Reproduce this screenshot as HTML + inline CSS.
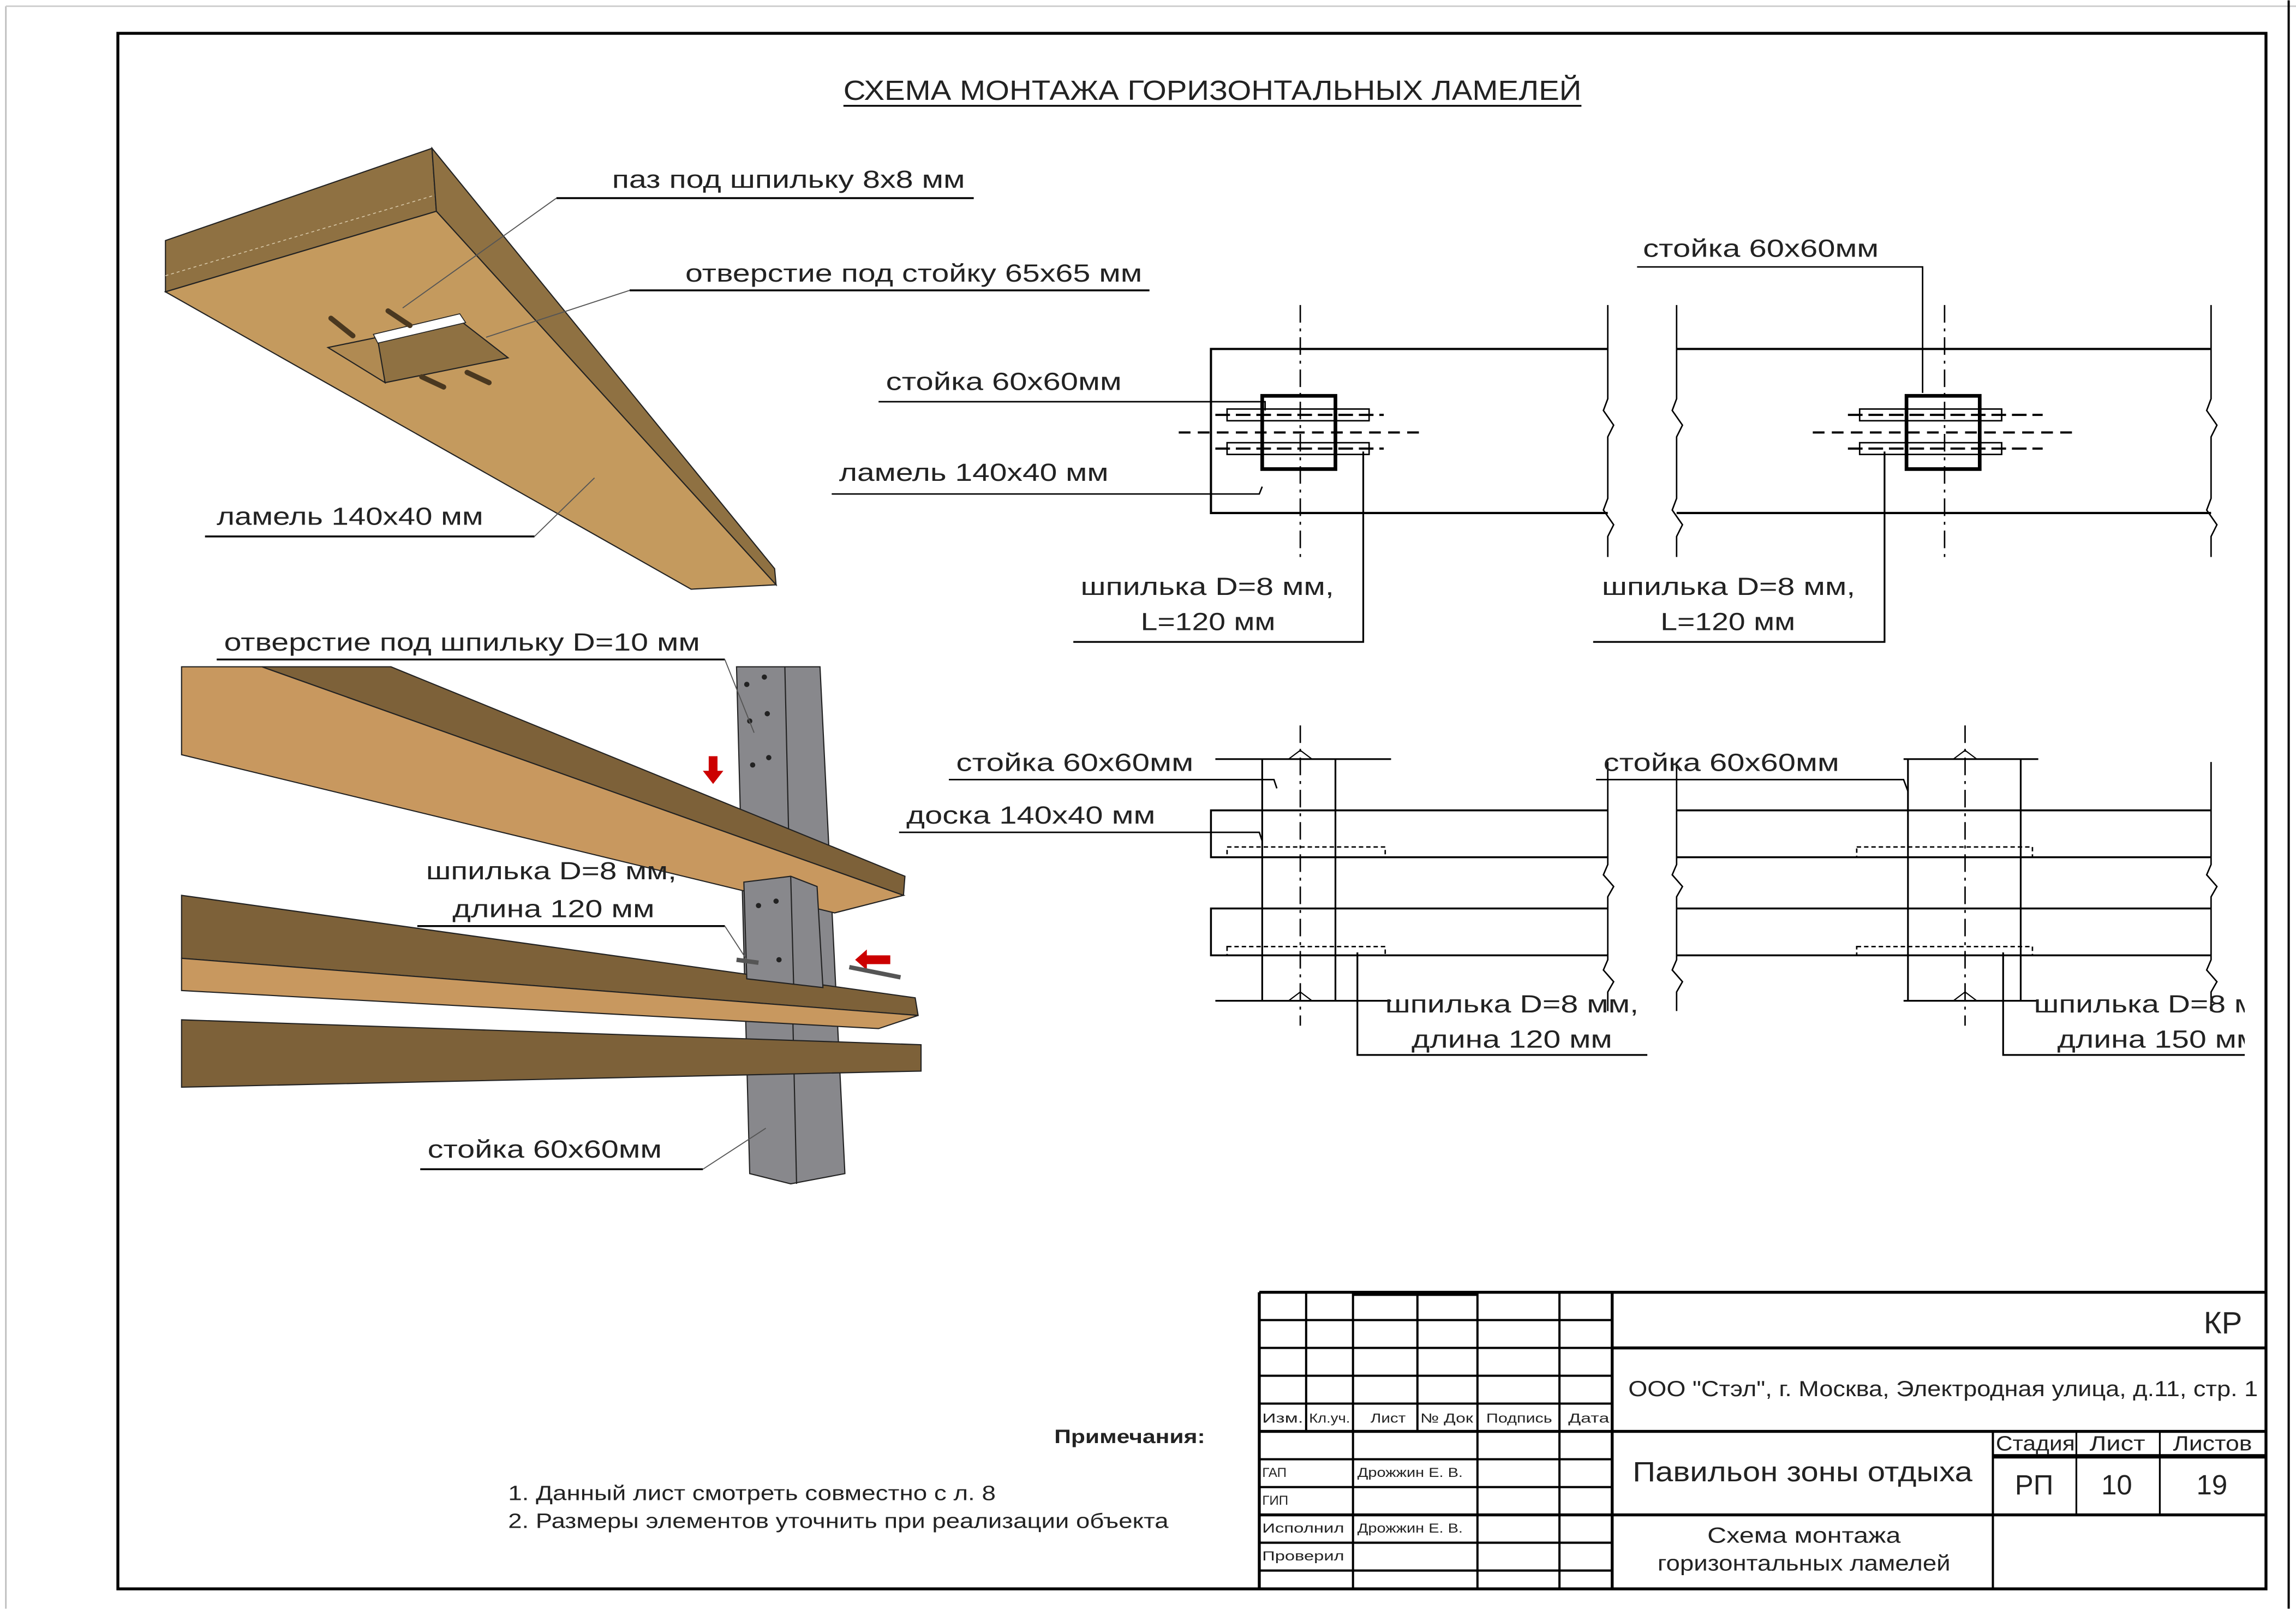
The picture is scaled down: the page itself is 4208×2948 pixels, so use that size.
<!DOCTYPE html>
<html><head><meta charset="utf-8"><style>
html,body{margin:0;padding:0;background:#fff;}
svg{display:block;}
text{font-family:"Liberation Sans","DejaVu Sans",sans-serif;fill:#222;}
</style></head><body>
<svg width="4208" height="2948" viewBox="0 0 1568 1098" xmlns="http://www.w3.org/2000/svg">
<rect width="1568" height="1098" fill="#fff"/>
<!-- page edges -->
<line x1="4" y1="4" x2="4" y2="1098" stroke="#bbb" stroke-width="1"/>
<line x1="4" y1="4" x2="1568" y2="4" stroke="#ccc" stroke-width="1"/>
<line x1="1563" y1="0" x2="1563" y2="1098" stroke="#000" stroke-width="1.5"/>
<!-- frame -->
<rect x="80.5" y="22.5" width="1467" height="1062" fill="none" stroke="#000" stroke-width="2"/>

<!-- title -->
<text x="576" y="68" font-size="19" textLength="504" lengthAdjust="spacingAndGlyphs">СХЕМА МОНТАЖА ГОРИЗОНТАЛЬНЫХ ЛАМЕЛЕЙ</text>
<line x1="576" y1="72" x2="1080" y2="72" stroke="#000" stroke-width="1.2"/>

<!-- top-left plank -->
<polygon points="113,164 295,101 298,144 113,199" fill="#8f7142" stroke="#222" stroke-width="0.8"/>
<polygon points="295,101 529,388 530,399 298,144" fill="#8f7142" stroke="#222" stroke-width="0.8"/>
<polygon points="113,199 298,144 530,399 472,402" fill="#c49a5e" stroke="#222" stroke-width="0.8"/>
<line x1="113" y1="188" x2="297" y2="133" stroke="#d8c8a8" stroke-width="0.6" stroke-dasharray="2,2"/>
<!-- hole -->
<polygon points="224,237 258,230 263,261" fill="#b08a52" stroke="#222" stroke-width="0.8"/>
<polygon points="258,232 316,220 347,244 263,261" fill="#8f7142" stroke="#222" stroke-width="0.8"/>
<polygon points="255,228 314,214 318,220 258,234" fill="#fff" stroke="#222" stroke-width="0.6"/>
<g stroke="#4a3820" stroke-width="3.5" stroke-linecap="round">
<line x1="226" y1="217" x2="241" y2="229"/>
<line x1="265" y1="212" x2="280" y2="222"/>
<line x1="288" y1="257" x2="303" y2="264"/>
<line x1="319" y1="254" x2="334" y2="261"/>
</g>

<!-- top-left labels -->
<text x="418" y="128" font-size="17" textLength="241" lengthAdjust="spacingAndGlyphs">паз под шпильку 8x8 мм</text>
<line x1="665" y1="135" x2="380" y2="135" stroke="#000" stroke-width="1.3"/>
<line x1="380" y1="135" x2="275" y2="210" stroke="#555" stroke-width="0.7"/>
<text x="468" y="192" font-size="17" textLength="312" lengthAdjust="spacingAndGlyphs">отверстие под стойку 65x65 мм</text>
<line x1="785" y1="198" x2="430" y2="198" stroke="#000" stroke-width="1.3"/>
<line x1="430" y1="198" x2="332" y2="230" stroke="#555" stroke-width="0.7"/>
<text x="148" y="358" font-size="17" textLength="182" lengthAdjust="spacingAndGlyphs">ламель 140x40 мм</text>
<line x1="140" y1="366" x2="365" y2="366" stroke="#000" stroke-width="1.3"/>
<line x1="365" y1="366" x2="406" y2="326" stroke="#555" stroke-width="0.7"/>

<!-- lower-left 3D -->
<polygon points="503,455 560,455 577,801 540,808 512,801" fill="#88888c" stroke="#222" stroke-width="0.8"/>
<line x1="536" y1="455" x2="544" y2="808" stroke="#222" stroke-width="0.8"/>
<g fill="#222"><circle cx="510" cy="467" r="1.8"/><circle cx="522" cy="462" r="1.8"/><circle cx="512" cy="492" r="1.8"/><circle cx="524" cy="487" r="1.8"/><circle cx="514" cy="522" r="1.8"/><circle cx="525" cy="517" r="1.8"/></g>
<polygon points="124,455 179,455 617,611 570,623 124,515" fill="#c8985f" stroke="#222" stroke-width="0.8"/>
<polygon points="179,455 267,455 618,598 617,611" fill="#7d6139" stroke="#222" stroke-width="0.8"/>
<polygon points="124,611 625,681 627,693 124,654" fill="#7d6139" stroke="#222" stroke-width="0.8"/>
<polygon points="124,654 627,693 600,702 124,676" fill="#c8985f" stroke="#222" stroke-width="0.8"/>
<polygon points="508,602 540,598 558,605 562,674 510,668" fill="#88888c" stroke="#222" stroke-width="0.8"/>
<line x1="540" y1="598" x2="542" y2="672" stroke="#222" stroke-width="0.8"/>
<g fill="#222"><circle cx="518" cy="618" r="1.8"/><circle cx="530" cy="615" r="1.8"/><circle cx="532" cy="655" r="1.8"/></g>
<polygon points="124,696 629,713 629,731 124,742" fill="#7d6139" stroke="#222" stroke-width="0.8"/>
<polygon points="484,516 490,516 490,526 494,526 487,535 480,526 484,526" fill="#c00"/>
<polygon points="584,652 600,652 600,648 608,655 600,662 600,658 584,658" fill="#c00" transform="rotate(180 596 655)"/>
<line x1="580" y1="660" x2="615" y2="667" stroke="#555" stroke-width="3"/>
<line x1="503" y1="655" x2="518" y2="657" stroke="#555" stroke-width="3"/>

<text x="153" y="444" font-size="17" textLength="325" lengthAdjust="spacingAndGlyphs">отверстие под шпильку D=10 мм</text>
<line x1="148" y1="450" x2="495" y2="450" stroke="#000" stroke-width="1.3"/>
<line x1="495" y1="450" x2="515" y2="500" stroke="#555" stroke-width="0.7"/>
<text x="291" y="600" font-size="17" textLength="171" lengthAdjust="spacingAndGlyphs">шпилька D=8 мм,</text>
<text x="309" y="626" font-size="17" textLength="138" lengthAdjust="spacingAndGlyphs">длина 120 мм</text>
<line x1="285" y1="632" x2="495" y2="632" stroke="#000" stroke-width="1.3"/>
<line x1="495" y1="632" x2="510" y2="655" stroke="#555" stroke-width="0.7"/>
<text x="292" y="790" font-size="17" textLength="160" lengthAdjust="spacingAndGlyphs">стойка 60x60мм</text>
<line x1="287" y1="798" x2="480" y2="798" stroke="#000" stroke-width="1.3"/>
<line x1="480" y1="798" x2="523" y2="770" stroke="#555" stroke-width="0.7"/>

<!-- plan view 1 -->
<g stroke="#000" fill="none">
<polyline points="1098,238 827,238 827,350 1098,350" stroke-width="1.5"/>
<line x1="888" y1="208" x2="888" y2="380" stroke-width="1" stroke-dasharray="12,4,2,4"/>
<path d="M1098,208 V272 L1095,280 L1102,290 L1098,298 V340 L1095,348 L1102,358 L1098,366 V380" stroke-width="1"/>
<path d="M1145,208 V272 L1142,280 L1149,290 L1145,298 V340 L1142,348 L1149,358 L1145,366 V380" stroke-width="1"/>
<line x1="805" y1="295" x2="972" y2="295" stroke-width="1.5" stroke-dasharray="8,5"/>
<rect x="838" y="279" width="97" height="8" stroke-width="1"/>
<rect x="838" y="302" width="97" height="8" stroke-width="1"/>
<line x1="830" y1="283" x2="945" y2="283" stroke-width="1.5" stroke-dasharray="10,4"/>
<line x1="830" y1="306" x2="945" y2="306" stroke-width="1.5" stroke-dasharray="10,4"/>
<rect x="862" y="270" width="50" height="50" stroke-width="2.5"/>
</g>
<!-- plan view 2 -->
<g stroke="#000" fill="none">
<line x1="1145" y1="238" x2="1510" y2="238" stroke-width="1.5"/>
<line x1="1145" y1="350" x2="1510" y2="350" stroke-width="1.5"/>
<line x1="1328" y1="208" x2="1328" y2="380" stroke-width="1" stroke-dasharray="12,4,2,4"/>
<path d="M1510,208 V272 L1507,280 L1514,290 L1510,298 V340 L1507,348 L1514,358 L1510,366 V380" stroke-width="1"/>
<line x1="1238" y1="295" x2="1420" y2="295" stroke-width="1.5" stroke-dasharray="8,5"/>
<rect x="1270" y="279" width="97" height="8" stroke-width="1"/>
<rect x="1270" y="302" width="97" height="8" stroke-width="1"/>
<line x1="1262" y1="283" x2="1395" y2="283" stroke-width="1.5" stroke-dasharray="10,4"/>
<line x1="1262" y1="306" x2="1395" y2="306" stroke-width="1.5" stroke-dasharray="10,4"/>
<rect x="1302" y="270" width="50" height="50" stroke-width="2.5"/>
</g>
<text x="605" y="266" font-size="17" textLength="161" lengthAdjust="spacingAndGlyphs">стойка 60x60мм</text>
<polyline points="600,274 864,274 864,280" fill="none" stroke="#000" stroke-width="1"/>
<text x="573" y="328" font-size="17" textLength="184" lengthAdjust="spacingAndGlyphs">ламель 140x40 мм</text>
<polyline points="568,337 860,337 862,332" fill="none" stroke="#000" stroke-width="1"/>
<text x="738" y="406" font-size="17" textLength="173" lengthAdjust="spacingAndGlyphs">шпилька D=8 мм,</text>
<text x="779" y="430" font-size="17" textLength="92" lengthAdjust="spacingAndGlyphs">L=120 мм</text>
<polyline points="733,438 931,438 931,308" fill="none" stroke="#000" stroke-width="1.2"/>
<text x="1122" y="175" font-size="17" textLength="161" lengthAdjust="spacingAndGlyphs">стойка 60x60мм</text>
<polyline points="1118,182 1313,182 1313,268" fill="none" stroke="#000" stroke-width="1"/>
<text x="1094" y="406" font-size="17" textLength="173" lengthAdjust="spacingAndGlyphs">шпилька D=8 мм,</text>
<text x="1134" y="430" font-size="17" textLength="92" lengthAdjust="spacingAndGlyphs">L=120 мм</text>
<polyline points="1088,438 1287,438 1287,308" fill="none" stroke="#000" stroke-width="1.2"/>

<!-- side view 1 -->
<g stroke="#000" fill="none">
<line x1="830" y1="518" x2="950" y2="518" stroke-width="1.2"/>
<line x1="830" y1="683" x2="950" y2="683" stroke-width="1.2"/>
<line x1="862" y1="518" x2="862" y2="683" stroke-width="1.2"/>
<line x1="912" y1="518" x2="912" y2="683" stroke-width="1.2"/>
<line x1="888" y1="495" x2="888" y2="700" stroke-width="1" stroke-dasharray="12,4,2,4"/>
<path d="M880,518 L888,512 L896,518" stroke-width="0.8"/>
<path d="M880,683 L888,677 L896,683" stroke-width="0.8"/>
<polyline points="1098,553 827,553 827,585 1098,585" stroke-width="1.3"/>
<polyline points="1098,620 827,620 827,652 1098,652" stroke-width="1.3"/>
<rect x="838" y="578" width="108" height="7" stroke-width="1" stroke-dasharray="3,2"/>
<rect x="838" y="646" width="108" height="6" stroke-width="1" stroke-dasharray="3,2"/>
<path d="M1098,520 V590 L1095,597 L1102,605 L1098,612 V655 L1095,662 L1102,670 L1098,677 V690" stroke-width="1"/>
<path d="M1145,520 V590 L1142,597 L1149,605 L1145,612 V655 L1142,662 L1149,670 L1145,677 V690" stroke-width="1"/>
</g>
<!-- side view 2 -->
<g stroke="#000" fill="none">
<line x1="1300" y1="518" x2="1392" y2="518" stroke-width="1.2"/>
<line x1="1300" y1="683" x2="1392" y2="683" stroke-width="1.2"/>
<line x1="1303" y1="518" x2="1303" y2="683" stroke-width="1.2"/>
<line x1="1380" y1="518" x2="1380" y2="683" stroke-width="1.2"/>
<line x1="1342" y1="495" x2="1342" y2="700" stroke-width="1" stroke-dasharray="12,4,2,4"/>
<path d="M1334,518 L1342,512 L1350,518" stroke-width="0.8"/>
<path d="M1334,683 L1342,677 L1350,683" stroke-width="0.8"/>
<line x1="1145" y1="553" x2="1510" y2="553" stroke-width="1.3"/>
<line x1="1145" y1="585" x2="1510" y2="585" stroke-width="1.3"/>
<line x1="1145" y1="620" x2="1510" y2="620" stroke-width="1.3"/>
<line x1="1145" y1="652" x2="1510" y2="652" stroke-width="1.3"/>
<rect x="1268" y="578" width="120" height="7" stroke-width="1" stroke-dasharray="3,2"/>
<rect x="1268" y="646" width="120" height="6" stroke-width="1" stroke-dasharray="3,2"/>
<path d="M1510,520 V590 L1507,597 L1514,605 L1510,612 V655 L1507,662 L1514,670 L1510,677 V690" stroke-width="1"/>
</g>
<text x="653" y="526" font-size="17" textLength="162" lengthAdjust="spacingAndGlyphs">стойка 60x60мм</text>
<polyline points="648,532 870,532 872,538" fill="none" stroke="#000" stroke-width="1"/>
<text x="619" y="562" font-size="17" textLength="170" lengthAdjust="spacingAndGlyphs">доска 140x40 мм</text>
<polyline points="614,568 860,568 862,574" fill="none" stroke="#000" stroke-width="1"/>
<text x="946" y="691" font-size="17" textLength="173" lengthAdjust="spacingAndGlyphs">шпилька D=8 мм,</text>
<text x="964" y="715" font-size="17" textLength="137" lengthAdjust="spacingAndGlyphs">длина 120 мм</text>
<polyline points="1125,720 927,720 927,650" fill="none" stroke="#000" stroke-width="1.2"/>
<text x="1095" y="526" font-size="17" textLength="161" lengthAdjust="spacingAndGlyphs">стойка 60x60мм</text>
<polyline points="1090,532 1300,532 1303,540" fill="none" stroke="#000" stroke-width="1"/>
<svg x="0" y="0" width="1533" height="1098" viewBox="0 0 1533 1098" overflow="hidden">
<text x="1389" y="691" font-size="17" textLength="172" lengthAdjust="spacingAndGlyphs">шпилька D=8 мм,</text>
<text x="1405" y="715" font-size="17" textLength="137" lengthAdjust="spacingAndGlyphs">длина 150 мм</text>
<polyline points="1540,720 1368,720 1368,650" fill="none" stroke="#000" stroke-width="1.2"/>
</svg>

<!-- notes -->
<text x="720" y="985" font-size="13" font-weight="bold" textLength="103" lengthAdjust="spacingAndGlyphs">Примечания:</text>
<text x="347" y="1024" font-size="14" textLength="333" lengthAdjust="spacingAndGlyphs">1. Данный лист смотреть совместно с л. 8</text>
<text x="347" y="1043" font-size="14" textLength="451" lengthAdjust="spacingAndGlyphs">2. Размеры элементов уточнить при реализации объекта</text>

<!-- title block -->
<g stroke="#000" fill="none">
<line x1="860" y1="882" x2="1548" y2="882" stroke-width="2"/>
<line x1="860" y1="882" x2="860" y2="1085" stroke-width="2"/>
<line x1="1101" y1="882" x2="1101" y2="1085" stroke-width="2"/>
<g stroke-width="1.5">
<line x1="860" y1="901" x2="1101" y2="901"/>
<line x1="860" y1="920" x2="1101" y2="920"/>
<line x1="860" y1="939" x2="1101" y2="939"/>
<line x1="860" y1="958" x2="1101" y2="958"/>
<line x1="860" y1="996" x2="1101" y2="996"/>
<line x1="860" y1="1015" x2="1101" y2="1015"/>
<line x1="860" y1="1053" x2="1101" y2="1053"/>
<line x1="860" y1="1072" x2="1101" y2="1072"/>
<line x1="892" y1="882" x2="892" y2="977"/>
<line x1="924" y1="882" x2="924" y2="1085"/>
<line x1="968" y1="882" x2="968" y2="977"/>
<line x1="1009" y1="882" x2="1009" y2="1085"/>
<line x1="1065" y1="882" x2="1065" y2="1085"/>
</g>
<line x1="924" y1="883" x2="1009" y2="883" stroke-width="3"/>
<line x1="860" y1="977" x2="1548" y2="977" stroke-width="2"/>
<line x1="860" y1="1034" x2="1548" y2="1034" stroke-width="2"/>
<line x1="1101" y1="920" x2="1548" y2="920" stroke-width="2"/>
<line x1="1361" y1="977" x2="1361" y2="1085" stroke-width="1.5"/>
<line x1="1418" y1="977" x2="1418" y2="1034" stroke-width="1.2"/>
<line x1="1475" y1="977" x2="1475" y2="1034" stroke-width="1.2"/>
<line x1="1361" y1="994" x2="1548" y2="994" stroke-width="3"/>
</g>
<g font-size="9">
<text x="862" y="971" textLength="28" lengthAdjust="spacingAndGlyphs">Изм.</text>
<text x="894" y="971" textLength="28" lengthAdjust="spacingAndGlyphs">Кл.уч.</text>
<text x="936" y="971" textLength="24" lengthAdjust="spacingAndGlyphs">Лист</text>
<text x="970" y="971" textLength="36" lengthAdjust="spacingAndGlyphs">№ Док</text>
<text x="1015" y="971" textLength="45" lengthAdjust="spacingAndGlyphs">Подпись</text>
<text x="1071" y="971" textLength="28" lengthAdjust="spacingAndGlyphs">Дата</text>
<text x="862" y="1008">ГАП</text>
<text x="927" y="1008" textLength="72" lengthAdjust="spacingAndGlyphs">Дрожжин Е. В.</text>
<text x="862" y="1027">ГИП</text>
<text x="862" y="1046" textLength="56" lengthAdjust="spacingAndGlyphs">Исполнил</text>
<text x="927" y="1046" textLength="72" lengthAdjust="spacingAndGlyphs">Дрожжин Е. В.</text>
<text x="862" y="1065" textLength="56" lengthAdjust="spacingAndGlyphs">Проверил</text>
</g>
<text x="1505" y="910" font-size="21">КР</text>
<text x="1112" y="953" font-size="15" textLength="430" lengthAdjust="spacingAndGlyphs">ООО "Стэл", г. Москва, Электродная улица, д.11, стр. 1</text>
<text x="1115" y="1011" font-size="19" textLength="232" lengthAdjust="spacingAndGlyphs">Павильон зоны отдыха</text>
<text x="1363" y="990" font-size="14" textLength="54" lengthAdjust="spacingAndGlyphs">Стадия</text>
<text x="1427" y="990" font-size="14" textLength="38" lengthAdjust="spacingAndGlyphs">Лист</text>
<text x="1484" y="990" font-size="14" textLength="54" lengthAdjust="spacingAndGlyphs">Листов</text>
<text x="1376" y="1020" font-size="19">РП</text>
<text x="1435" y="1020" font-size="19">10</text>
<text x="1500" y="1020" font-size="19">19</text>
<text x="1166" y="1053" font-size="15" textLength="132" lengthAdjust="spacingAndGlyphs">Схема монтажа</text>
<text x="1132" y="1072" font-size="15" textLength="200" lengthAdjust="spacingAndGlyphs">горизонтальных ламелей</text>
</svg>
</body></html>
